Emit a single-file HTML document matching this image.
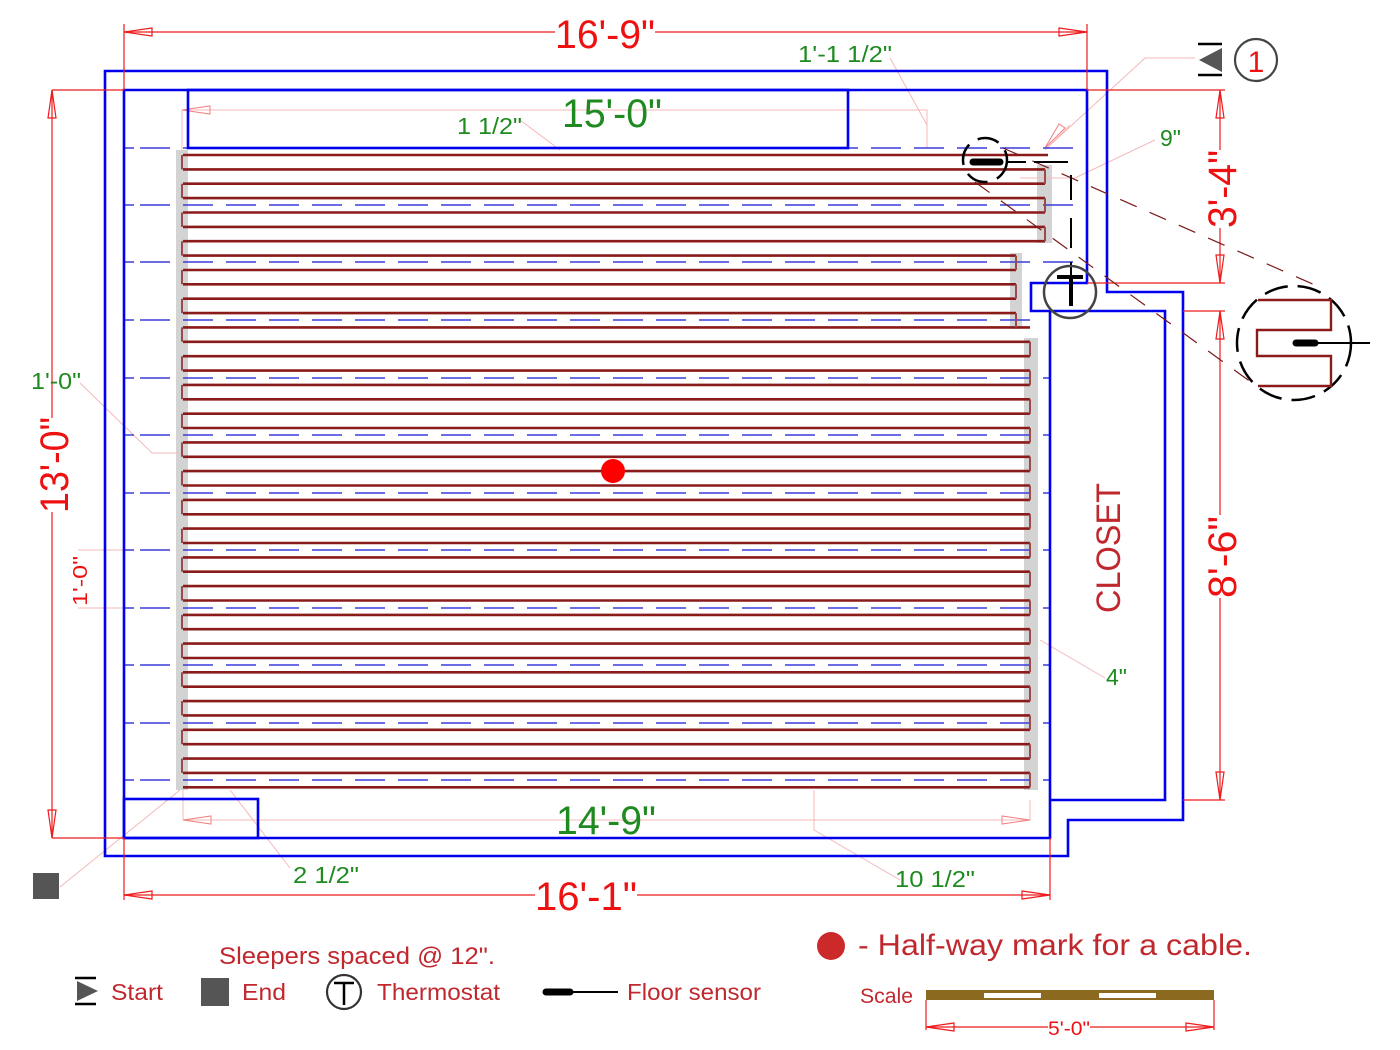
<!DOCTYPE html>
<html><head><meta charset="utf-8"><style>
html,body{margin:0;padding:0;background:#fff;}
svg{display:block;font-family:"Liberation Sans",sans-serif;}
</style></head><body>
<svg width="1400" height="1050" viewBox="0 0 1400 1050" xmlns="http://www.w3.org/2000/svg">
<rect width="1400" height="1050" fill="#fff"/>

<!-- gray bands -->
<g fill="#d3d3d3">
<rect x="176" y="150" width="12" height="640"/>
<rect x="1037" y="165" width="15" height="78"/>
<rect x="1010" y="253" width="12" height="76"/>
<rect x="1024" y="338" width="14" height="452"/>
</g>

<!-- light pink leader lines -->
<g stroke="#f4b8b8" stroke-width="1" fill="none">
<path d="M182 110 H927 V148"/>
<path d="M182 110 V150"/>
<path d="M890 58 L927 125"/>
<path d="M520 120 L560 150"/>
<path d="M1047 148 L1145 58 H1195"/>
<path d="M1045 150 L1070 125"/>
<path d="M1155 140 L1075 178 H1020"/>
<path d="M80 383 L152 453 H180"/>
<path d="M78 550 H124 M78 608 H124"/>
<path d="M183 820 H1030 V800"/>
<path d="M183 820 V790"/>
<path d="M814 790 V830 L900 880"/>
<path d="M230 790 L290 868"/>
<path d="M60 887 L180 790"/>
<path d="M1040 640 L1105 678"/>
</g>
<g fill="none" stroke="#f08080" stroke-width="1">
<path d="M183 820 l28 -4 v8 z"/>
<path d="M1030 820 l-28 -4 v8 z"/>
<path d="M182 110 l28 -4 v8 z"/>
<path d="M1045 148 l14 -24 l6 4 z"/>
</g>

<!-- blue dashed sleepers -->
<g stroke="#3b3bdc" stroke-width="1.5" stroke-dasharray="30,13" fill="none">
<path d="M140 148 H1087 M140 205 H1087 M140 262 H1087 M140 320 H1031"/>
<path d="M140 378 H1050 M140 435 H1050 M140 493 H1050 M140 550 H1050 M140 608 H1050 M140 665 H1050 M140 723 H1050 M140 780 H1050"/>
</g>
<g stroke="#3b3bdc" stroke-width="1.5">
<path d="M124 148 H134 M124 205 H134 M124 262 H134 M124 320 H134 M124 378 H134 M124 435 H134 M124 493 H134 M124 550 H134 M124 608 H134 M124 665 H134 M124 723 H134 M124 780 H134"/>
</g>

<!-- cable -->
<g stroke="#8b1a1a" stroke-width="2.6" fill="none">
<path d="M183 155 H1048 M183 169.4 H1045 M183 183.7 H1045 M183 198.1 H1045 M183 212.5 H1045 M183 226.9 H1045 M183 241.2 H1045
M183 255.6 H1016 M183 270 H1016 M183 284.3 H1016 M183 298.7 H1016 M183 313.1 H1016
M183 327.4 H1030 M183 341.8 H1030 M183 356.2 H1030 M183 370.6 H1030 M183 384.9 H1030 M183 399.3 H1030 M183 413.7 H1030 M183 428 H1030 M183 442.4 H1030 M183 456.8 H1030 M183 471.1 H1030 M183 485.5 H1030 M183 499.9 H1030 M183 514.3 H1030 M183 528.6 H1030 M183 543 H1030 M183 557.4 H1030 M183 571.7 H1030 M183 586.1 H1030 M183 600.5 H1030 M183 614.9 H1030 M183 629.2 H1030 M183 643.6 H1030 M183 658 H1030 M183 672.3 H1030 M183 686.7 H1030 M183 701.1 H1030 M183 715.4 H1030 M183 729.8 H1030 M183 744.2 H1030 M183 758.6 H1030 M183 772.9 H1030 M183 787.3 H1030"/>
</g>
<g stroke="#9a4a4a" stroke-width="2" fill="none">
<path d="M182 155 V169.4 M182 183.7 V198.1 M182 212.5 V226.9 M182 241.2 V255.6 M182 270 V284.3 M182 298.7 V313.1 M182 327.4 V341.8 M182 356.2 V370.6 M182 384.9 V399.3 M182 413.7 V428 M182 442.4 V456.8 M182 471.1 V485.5 M182 499.9 V514.3 M182 528.6 V543 M182 557.4 V571.7 M182 586.1 V600.5 M182 614.9 V629.2 M182 643.6 V658 M182 672.3 V686.7 M182 701.1 V715.4 M182 729.8 V744.2 M182 758.6 V772.9"/>
<path d="M1045 169.4 V183.7 M1045 198.1 V212.5 M1045 226.9 V241.2 M1016 255.6 V270 M1016 284.3 V298.7 M1016 313.1 V327.4 M1030 341.8 V356.2 M1030 370.6 V384.9 M1030 399.3 V413.7 M1030 428 V442.4 M1030 456.8 V471.1 M1030 485.5 V499.9 M1030 514.3 V528.6 M1030 543 V557.4 M1030 571.7 V586.1 M1030 600.5 V614.9 M1030 629.2 V643.6 M1030 658 V672.3 M1030 686.7 V701.1 M1030 715.4 V729.8 M1030 744.2 V758.6 M1030 772.9 V787.3"/>
</g>

<!-- walls -->
<g stroke="#0000ee" stroke-width="2.6" fill="none">
<path d="M105 71 H1107 V292 H1183 V820 H1068 V856 H105 Z"/>
<path d="M124 90 H1087 V283 H1031 V311 H1050 V838 H124 Z"/>
<path d="M1050 311 H1165 V800 H1050"/>
<rect x="188" y="90" width="660" height="58"/>
<rect x="124" y="799" width="134" height="39"/>
</g>

<!-- red dimension lines -->
<g stroke="#ee1c1c" stroke-width="1.2" fill="none">
<path d="M124 32 H555 M655 32 H1087"/>
<path d="M124 24 V90 M1087 24 V90"/>
<path d="M124 32 l28 -4 v8 z M1087 32 l-28 -4 v8 z"/>
<path d="M52 90 V418 M52 512 V838 M52 90 H124 M52 838 H124"/>
<path d="M52 90 l-4 28 h8 z M52 838 l-4 -28 h8 z"/>
<path d="M1220 90 V150 M1220 228 V283 M1087 90 H1225 M1087 283 H1225"/>
<path d="M1220 90 l-4 28 h8 z M1220 283 l-4 -28 h8 z"/>
<path d="M1220 311 V515 M1220 598 V800 M1183 311 H1225 M1183 800 H1225"/>
<path d="M1220 311 l-4 28 h8 z M1220 800 l-4 -28 h8 z"/>
<path d="M124 895 H535 M637 895 H1050 M124 838 V900 M1050 838 V900"/>
<path d="M124 895 l28 -4 v8 z M1050 895 l-28 -4 v8 z"/>
</g>

<!-- dimension texts -->
<g fill="#ee1111" font-size="40">
<text x="555" y="48" textLength="100" lengthAdjust="spacingAndGlyphs">16'-9"</text>
<text x="535" y="910" textLength="102" lengthAdjust="spacingAndGlyphs">16'-1"</text>
<text transform="translate(68,513) rotate(-90)" textLength="96" lengthAdjust="spacingAndGlyphs">13'-0"</text>
<text transform="translate(1236,228) rotate(-90)" textLength="78" lengthAdjust="spacingAndGlyphs">3'-4"</text>
<text transform="translate(1236,598) rotate(-90)" textLength="82" lengthAdjust="spacingAndGlyphs">8'-6"</text>
</g>
<text transform="translate(87,606) rotate(-90)" fill="#ee1111" font-size="20" textLength="50" lengthAdjust="spacingAndGlyphs">1'-0"</text>
<text transform="translate(1120,613) rotate(-90)" fill="#c0282e" font-size="34" textLength="130" lengthAdjust="spacingAndGlyphs">CLOSET</text>
<g fill="#1f8a1f">
<text x="562" y="127" font-size="40" textLength="100" lengthAdjust="spacingAndGlyphs">15'-0"</text>
<text x="556" y="834" font-size="40" textLength="100" lengthAdjust="spacingAndGlyphs">14'-9"</text>
<g font-size="23">
<text x="457" y="134" textLength="65" lengthAdjust="spacingAndGlyphs">1 1/2"</text>
<text x="798" y="62" textLength="94" lengthAdjust="spacingAndGlyphs">1'-1 1/2"</text>
<text x="1160" y="146">9"</text>
<text x="31" y="389" textLength="50" lengthAdjust="spacingAndGlyphs">1'-0"</text>
<text x="1106" y="685">4"</text>
<text x="293" y="883" textLength="66" lengthAdjust="spacingAndGlyphs">2 1/2"</text>
<text x="895" y="887" textLength="80" lengthAdjust="spacingAndGlyphs">10 1/2"</text>
</g>
</g>

<!-- half-way dot -->
<circle cx="613" cy="471" r="12" fill="#ff0000"/>

<!-- sensor & thermostat -->
<g stroke="#7a1a1a" stroke-width="1.2" stroke-dasharray="18,14" fill="none">
<path d="M1003 148 L1315 285"/>
<path d="M975 182 L1255 385"/>
</g>
<circle cx="985" cy="160" r="22" fill="none" stroke="#000" stroke-width="2.5" stroke-dasharray="22,10"/>
<path d="M973 162 H1000" stroke="#000" stroke-width="7" stroke-linecap="round"/>
<path d="M1000 162 H1066" stroke="#000" stroke-width="2" stroke-dasharray="0,6,20,8,100" />
<path d="M1040 162 H1068" stroke="#000" stroke-width="2"/>
<path d="M1071 175 V200 M1071 218 V248 M1071 262 V276" stroke="#000" stroke-width="2"/>
<circle cx="1070" cy="292" r="26" fill="none" stroke="#444" stroke-width="2.5"/>
<path d="M1057 277 H1083 M1071 277 V306" stroke="#000" stroke-width="4"/>

<!-- detail circle -->
<circle cx="1294" cy="343" r="57" fill="none" stroke="#000" stroke-width="2.5" stroke-dasharray="24,10"/>
<path d="M1258 300 H1331 V330 H1257 V356 H1331 V386 H1258" fill="none" stroke="#8b1a1a" stroke-width="2.4"/>
<path d="M1296 343 H1315" stroke="#000" stroke-width="7" stroke-linecap="round"/>
<path d="M1315 343 H1370" stroke="#000" stroke-width="2"/>

<!-- start marker & 1 -->
<path d="M1198 44 H1222 M1198 75 H1222" stroke="#000" stroke-width="2.5"/>
<path d="M1222 48 V72 L1199 60 Z" fill="#555"/>
<circle cx="1256" cy="60" r="21" fill="none" stroke="#444" stroke-width="2.2"/>
<text x="1256" y="72" font-size="30" fill="#ee1111" text-anchor="middle">1</text>

<!-- end marker -->
<rect x="33" y="873" width="26" height="26" fill="#555"/>

<!-- legend -->
<text x="219" y="964" font-size="24" fill="#c0282e" textLength="276" lengthAdjust="spacingAndGlyphs">Sleepers spaced @ 12".</text>
<path d="M75 978 H96 M75 1004 H96" stroke="#000" stroke-width="2.5"/>
<path d="M77 981 V1001 L98 991 Z" fill="#555"/>
<text x="111" y="1000" font-size="23" fill="#c0282e" textLength="52" lengthAdjust="spacingAndGlyphs">Start</text>
<rect x="201" y="978" width="28" height="28" fill="#555"/>
<text x="242" y="1000" font-size="23" fill="#c0282e" textLength="44" lengthAdjust="spacingAndGlyphs">End</text>
<circle cx="344" cy="992" r="17" fill="none" stroke="#333" stroke-width="2.2"/>
<path d="M334 983 H354 M344 983 V1005" stroke="#000" stroke-width="2.5"/>
<text x="377" y="1000" font-size="23" fill="#c0282e" textLength="123" lengthAdjust="spacingAndGlyphs">Thermostat</text>
<path d="M546 992 H570" stroke="#000" stroke-width="7" stroke-linecap="round"/>
<path d="M570 992 H618" stroke="#000" stroke-width="2"/>
<text x="627" y="1000" font-size="23" fill="#c0282e" textLength="134" lengthAdjust="spacingAndGlyphs">Floor sensor</text>

<circle cx="831" cy="946" r="14" fill="#cc2a2a"/>
<text x="858" y="955" font-size="30" fill="#c0282e" textLength="394" lengthAdjust="spacingAndGlyphs">- Half-way mark for a cable.</text>
<text x="860" y="1003" font-size="21" fill="#c0282e" textLength="53" lengthAdjust="spacingAndGlyphs">Scale</text>
<rect x="926" y="990" width="288" height="10" fill="#8b6a20"/>
<rect x="984" y="993" width="57" height="5" fill="#fff"/>
<rect x="1099" y="993" width="57" height="5" fill="#fff"/>
<g stroke="#ee1c1c" stroke-width="1.2" fill="none">
<path d="M926 1000 V1030 M1214 1000 V1030 M926 1027 H1048 M1090 1027 H1214"/>
<path d="M926 1027 l28 -4 v8 z M1214 1027 l-28 -4 v8 z"/>
</g>
<text x="1048" y="1035" font-size="19" fill="#ee1111" textLength="42" lengthAdjust="spacingAndGlyphs">5'-0"</text>
</svg>
</body></html>
